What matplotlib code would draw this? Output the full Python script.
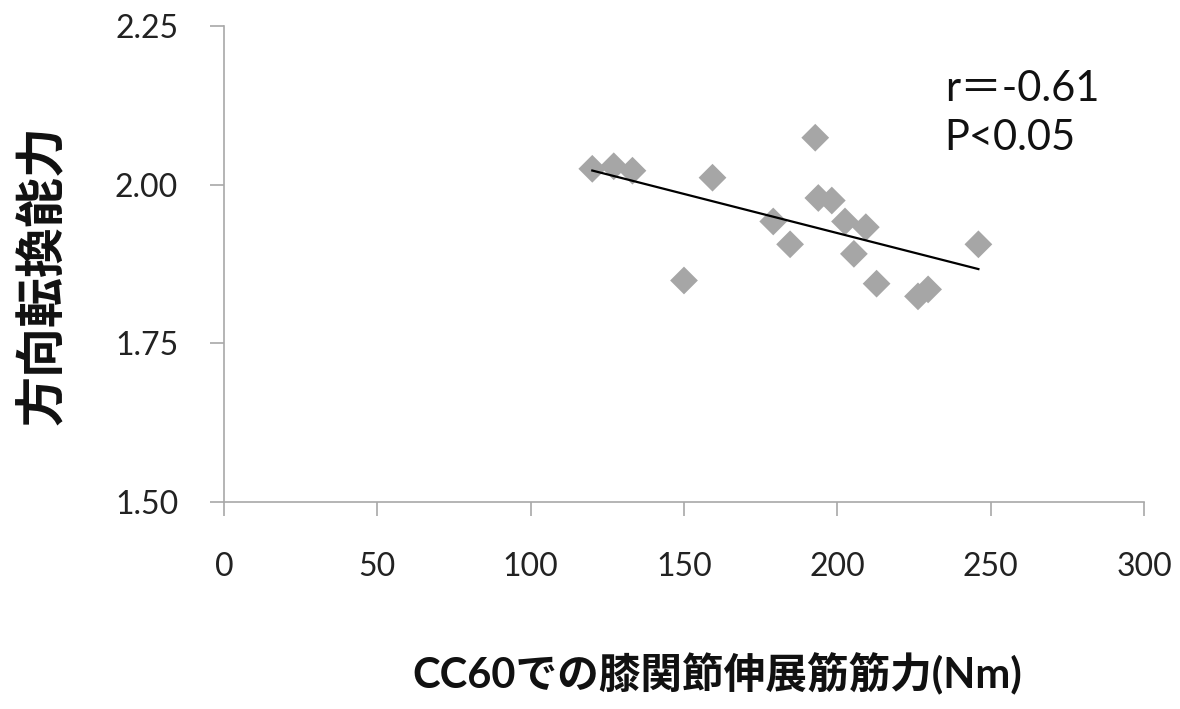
import matplotlib
matplotlib.use("Agg")
import matplotlib.pyplot as plt
import numpy as np

# knee extension strength at 60 deg/s (Nm) vs. change-of-direction ability
strength = [120.1, 127.1, 133.2, 150.0, 159.3, 179.1, 184.6, 192.8, 193.8, 198.2,
            202.5, 205.4, 209.3, 212.8, 226.3, 229.6, 246.0]
cod_score = [2.025, 2.029, 2.022, 1.849, 2.011, 1.942, 1.906, 2.074, 1.979, 1.975,
             1.942, 1.891, 1.933, 1.844, 1.824, 1.835, 1.906]
x_ticks = [0, 50, 100, 150, 200, 250, 300]
y_ticks = [1.50, 1.75, 2.00, 2.25]
stats_text = "r＝-0.61\nP<0.05"
x_label = "CC60での膝関節伸展筋筋力(Nm)"
y_label = "方向転換能力"

fonts = ["Lato", "Noto Sans CJK JP", "DejaVu Sans"]
plt.rcParams["font.family"] = fonts

fig = plt.figure(figsize=(11.8, 7.09), dpi=100)
ax = fig.add_axes([0.1898, 0.292, 0.7797, 0.6713])

x = np.asarray(strength)
y = np.asarray(cod_score)
ax.scatter(x, y, marker="D", s=200, color="#a6a6a6", edgecolors="none", zorder=3)

slope, intercept = np.polyfit(x, y, 1)
xf = np.array([x.min(), x.max()])
ax.plot(xf, slope * xf + intercept, color="black", lw=1.6, zorder=4)

ax.set_xlim(0, 300)
ax.set_ylim(1.5, 2.25)
ax.set_xticks(x_ticks)
ax.set_yticks(y_ticks)
ax.set_yticklabels([f"{v:.2f}" for v in y_ticks])

for side in ("top", "right"):
    ax.spines[side].set_visible(False)
for side in ("left", "bottom"):
    ax.spines[side].set_color("#a8a8a8")
    ax.spines[side].set_linewidth(1.2)
ax.tick_params(axis="both", colors="#a8a8a8", width=1.2, length=10,
               labelsize=23, labelcolor="#222222")
ax.tick_params(axis="x", pad=26)
ax.tick_params(axis="y", pad=23)

ax.text(235, 2.18, stats_text, fontsize=30, color="#111111",
        va="top", ha="left", linespacing=1.35)

fig.text(0.036, 0.612, y_label, rotation=90, fontsize=36, fontweight="bold",
         ha="center", va="center", color="#111111")
fig.text(0.608, 0.05, x_label, fontsize=30, fontweight="bold",
         ha="center", va="center", color="#111111")

fig.savefig("out.png", dpi=100)
